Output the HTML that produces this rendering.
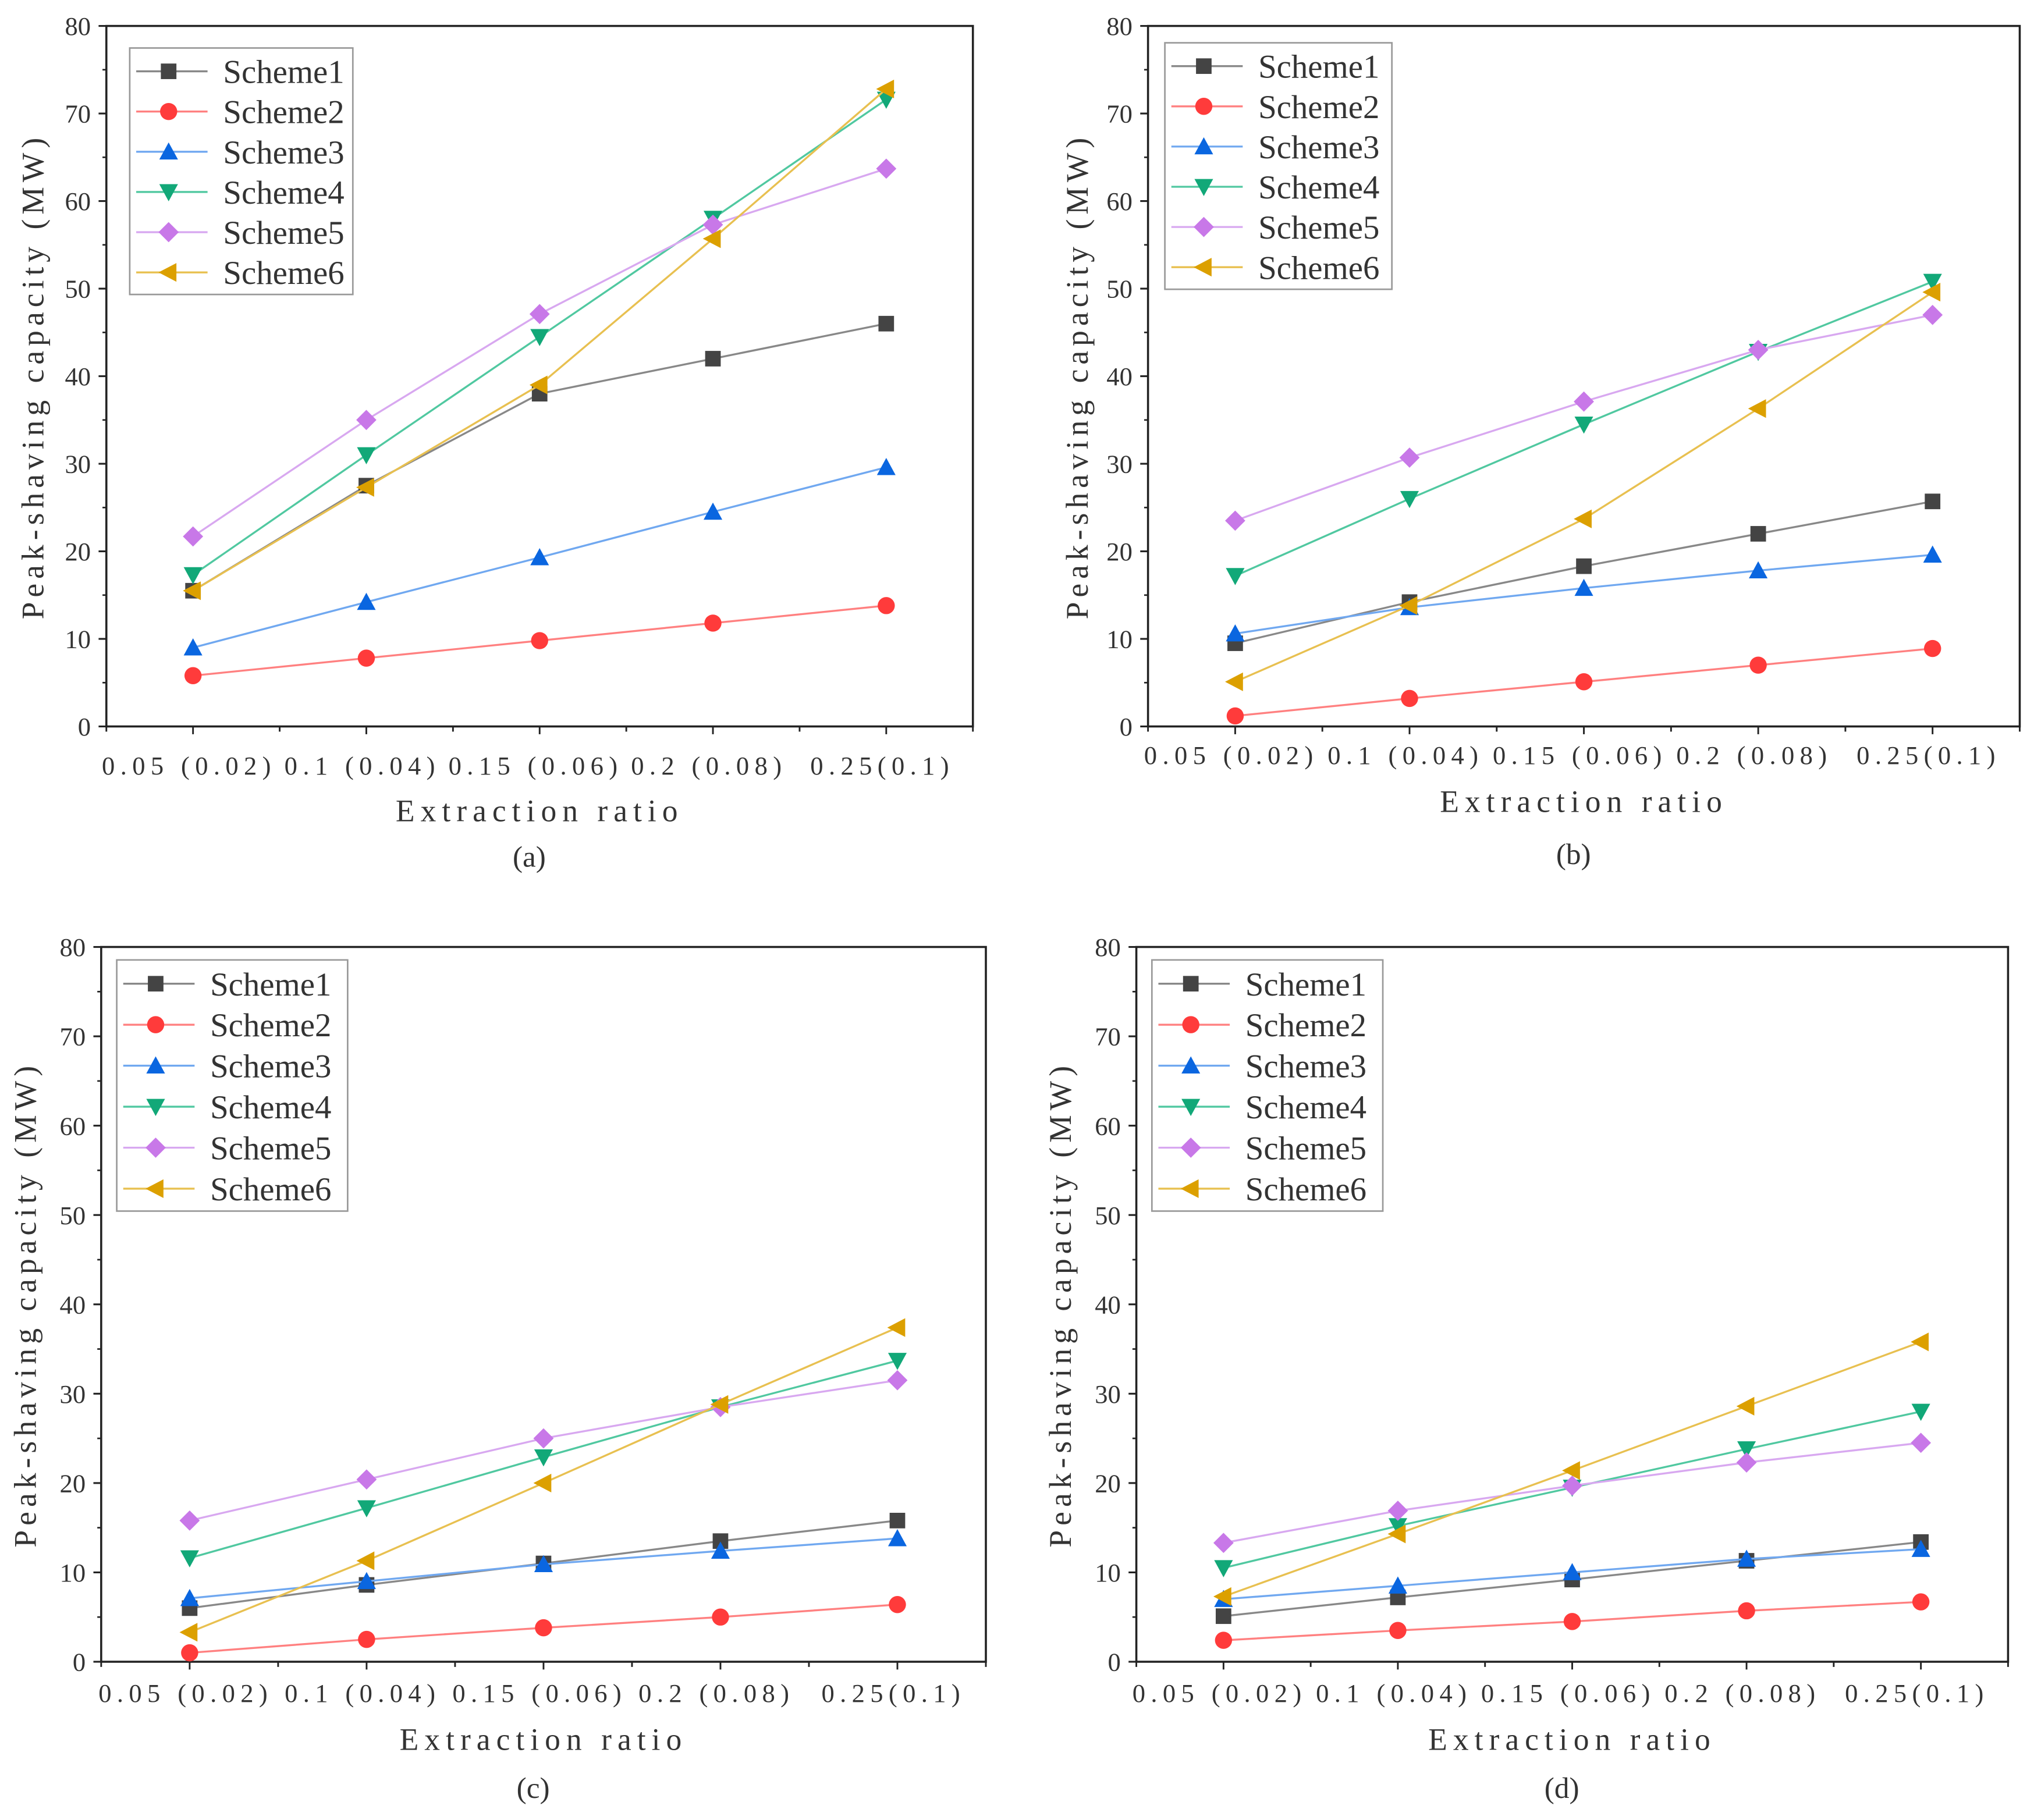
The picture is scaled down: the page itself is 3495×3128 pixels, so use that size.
<!DOCTYPE html>
<html><head><meta charset="utf-8"><style>
html,body{margin:0;padding:0;background:#fff;}
svg{display:block;}
text{font-family:"Liberation Serif","Noto Serif CJK SC",serif;fill:#333;}
</style></head><body>
<svg id="fig" width="3495" height="3128" viewBox="0 0 1568 1403" preserveAspectRatio="none" xmlns="http://www.w3.org/2000/svg"></svg>
<script>
const categories = ["0.05 (0.02)", "0.1 (0.04)", "0.15 (0.06)", "0.2 (0.08)", "0.25(0.1)"];
const yTicks = [0, 10, 20, 30, 40, 50, 60, 70, 80];
const seriesNames = ["Scheme1", "Scheme2", "Scheme3", "Scheme4", "Scheme5", "Scheme6"];
const panelLabels = ["(a)", "(b)", "(c)", "(d)"];
const dataA = [[15.5,27.5,38,42,46],[5.8,7.8,9.8,11.8,13.8],[9,14.2,19.3,24.5,29.6],[17.3,31,44.5,58,71.6],[21.7,35,47.1,57.3,63.7],[15.5,27.3,39,55.7,72.8]];
const dataB = [[9.5,14.2,18.3,22,25.7],[1.2,3.2,5.1,7.0,8.9],[10.6,13.6,15.8,17.8,19.6],[17.2,26,34.5,42.8,50.8],[23.5,30.7,37.1,43,47],[5.1,13.8,23.7,36.3,49.6]];
const dataC = [[6,8.6,11,13.5,15.8],[1,2.5,3.8,5,6.4],[7.1,9,10.9,12.4,13.8],[11.6,17.2,22.9,28.5,33.7],[15.8,20.4,25,28.5,31.5],[3.3,11.3,20,28.8,37.4]];
const dataD = [[5.1,7.2,9.2,11.3,13.4],[2.4,3.5,4.5,5.7,6.7],[7,8.5,10,11.5,12.6],[10.5,15.2,19.5,23.8,28],[13.3,16.9,19.7,22.3,24.5],[7.3,14.3,21.4,28.6,35.8]];
const allData = [dataA, dataB, dataC, dataD];

const colors = ["#444","#ff3b3b","#0a66e0","#12a878","#c878e8","#dca000"];
const lineColors = ["#888","#ff8080","#70a8f0","#50c8a0","#d8a8f0","#e8c050"];
const markers = ["square","circle","up","down","diamond","left"];
const layouts = [
 {l:82,r:750,t:20,b:560,lx:100,ly:37,lh:31,lw:172,xl:590,xt:625,pl:660,yt:28},
 {l:885,r:1557,t:20,b:560,lx:898,ly:33,lh:31,lw:175,xl:582,xt:618,pl:658,yt:833},
 {l:78,r:760,t:730,b:1281,lx:90,ly:740,lh:31.6,lw:178,xl:1305,xt:1341,pl:1378,yt:22},
 {l:876,r:1548,t:730,b:1281,lx:888,ly:740,lh:31.6,lw:178,xl:1305,xt:1341,pl:1378,yt:820}
];
const NS="http://www.w3.org/2000/svg";
const svg=document.getElementById("fig");
function mk(tag,attrs,parent){const e=document.createElementNS(NS,tag);for(const k in attrs)e.setAttribute(k,attrs[k]);(parent||svg).appendChild(e);return e;}
function marker(g,type,x,y,c,s){
  let e;
  if(type==="square") e=mk("rect",{x:x-s,y:y-s,width:2*s,height:2*s,fill:c},g);
  else if(type==="circle") e=mk("circle",{cx:x,cy:y,r:s*1.1,fill:c},g);
  else if(type==="up") e=mk("polygon",{points:`${x},${y-s*1.2} ${x-s*1.2},${y+s} ${x+s*1.2},${y+s}`,fill:c},g);
  else if(type==="down") e=mk("polygon",{points:`${x},${y+s*1.2} ${x-s*1.2},${y-s} ${x+s*1.2},${y-s}`,fill:c},g);
  else if(type==="diamond") e=mk("polygon",{points:`${x},${y-s*1.3} ${x+s*1.3},${y} ${x},${y+s*1.3} ${x-s*1.3},${y}`,fill:c},g);
  else e=mk("polygon",{points:`${x-s*1.3},${y} ${x+s},${y-s*1.2} ${x+s},${y+s*1.2}`,fill:c},g);
  
  
  return e;
}
allData.forEach((data,pi)=>{
  const L=layouts[pi];
  const g=mk("g",{});
  
  
  const W=L.r-L.l;
  const xs=i=>L.l+W*(2*i+1)/(2*categories.length);
  const ys=v=>L.b-(L.b-L.t)*v/80;
  const fr=mk("rect",{x:L.l,y:L.t,width:W,height:L.b-L.t,fill:"none",stroke:"#222","stroke-width":1.6},g);
  
  
  yTicks.forEach(v=>{
    mk("line",{x1:L.l-6,x2:L.l,y1:ys(v),y2:ys(v),stroke:"#222","stroke-width":1.4},g);
    if(v<80) mk("line",{x1:L.l-3,x2:L.l,y1:ys(v+5),y2:ys(v+5),stroke:"#222","stroke-width":1.2},g);
    const t=mk("text",{x:L.l-12,y:ys(v)+7,"text-anchor":"end","font-size":20},g);
    t.textContent=v;
    
    
  });
  for(let i=0;i<=2*categories.length;i++){
    const x=L.l+W*i/(2*categories.length);
    mk("line",{x1:x,x2:x,y1:L.b,y2:L.b+(i%2?6:4),stroke:"#222","stroke-width":1.3},g);
  }
  categories.forEach((c,i)=>{
    const t=mk("text",{x:xs(i)-3,y:L.xl+7,"text-anchor":"middle","font-size":20,"letter-spacing":"4.2"},g);
    t.textContent=c;
    
    
  });
  const xt=mk("text",{x:L.l+W/2,y:L.xt+8,"text-anchor":"middle","font-size":24,"letter-spacing":"4.5"},g);
  xt.textContent="Extraction ratio";
  
  
  const yc=(L.t+L.b)/2;
  const yt=mk("text",{x:L.yt,y:yc,"text-anchor":"middle","font-size":24,"letter-spacing":"3.6",transform:`rotate(-90 ${L.yt} ${yc})`,"dominant-baseline":"middle"},g);
  yt.textContent="Peak-shaving capacity (MW)";
  
  
  const pl=mk("text",{x:L.l+W/2-8,y:L.pl+8,"text-anchor":"middle","font-size":23},g);
  pl.textContent=panelLabels[pi];
  
  
  data.forEach((vals,si)=>{
    const sg=mk("g",{},g);
    
    
    const pts=vals.map((v,i)=>xs(i)+","+ys(v)).join(" ");
    const pline=mk("polyline",{points:pts,fill:"none",stroke:lineColors[si],"stroke-width":1.5},sg);
    
    
    vals.forEach((v,i)=>marker(sg,markers[si],xs(i),ys(v),colors[si],6));
  });
  const lg=mk("g",{},g);
  
  
  mk("rect",{x:L.lx,y:L.ly,width:L.lw,height:L.lh*6+4,fill:"#fff",stroke:"#999","stroke-width":1.2},lg);
  seriesNames.forEach((n,si)=>{
    const y=L.ly+L.lh*0.58+si*L.lh;
    mk("line",{x1:L.lx+5,x2:L.lx+60,y1:y,y2:y,stroke:lineColors[si],"stroke-width":1.5},lg);
    marker(lg,markers[si],L.lx+30,y,colors[si],6);
    const t=mk("text",{x:L.lx+72,y:y+9,"font-size":25.5},lg);
    t.textContent=n;
    
    
  });
});
</script>
</body></html>
